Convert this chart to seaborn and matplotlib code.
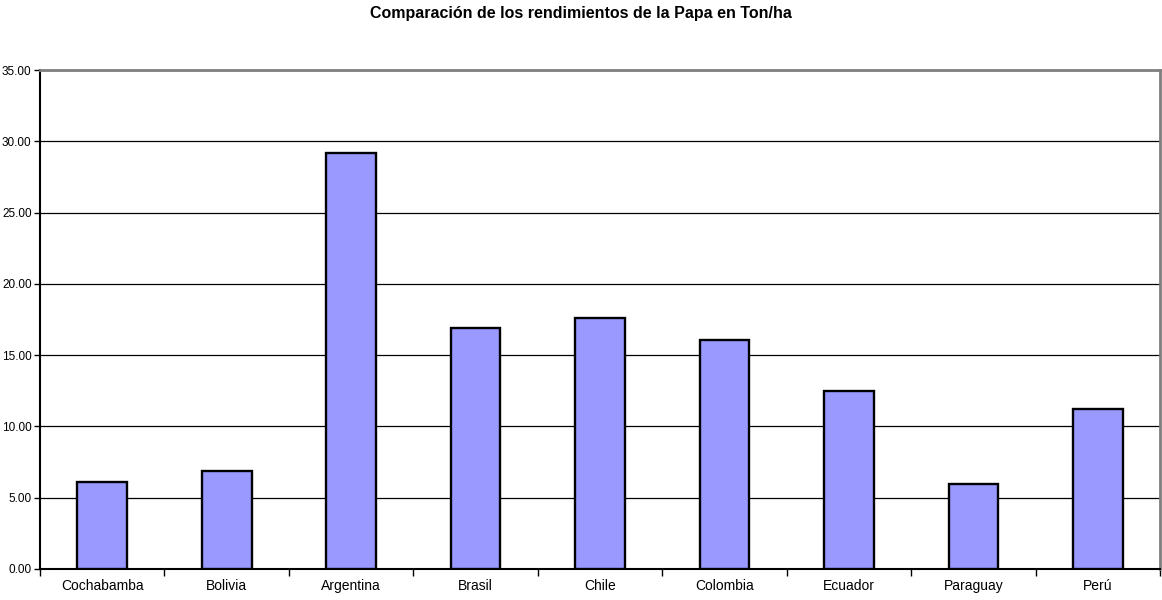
import matplotlib
matplotlib.use("Agg")
import matplotlib.pyplot as plt
import seaborn as sns
import numpy as np

countries = ["Cochabamba", "Bolivia", "Argentina", "Brasil", "Chile",
             "Colombia", "Ecuador", "Paraguay", "Perú"]
yields = [6.08, 6.89, 29.15, 16.90, 17.58, 16.06, 12.50, 5.98, 11.20]
y_ticks = [0, 5, 10, 15, 20, 25, 30, 35]

sns.set_theme(style="white")
plt.rcParams['font.family'] = ['Liberation Sans', 'DejaVu Sans']
plt.rcParams['text.color'] = 'black'
plt.rcParams['xtick.color'] = 'black'
plt.rcParams['ytick.color'] = 'black'

fig = plt.figure(figsize=(11.62, 6), dpi=100)
ax = fig.add_axes([0.0344, 0.0517, 0.9640, 0.8316])

sns.barplot(ax=ax, x=countries, y=yields, color="#9999FF", saturation=1,
            edgecolor="black", linewidth=1.7, width=0.4, zorder=3)

ax.set_ylim(0, 35)
ax.set_xlim(-0.5, len(countries) - 0.5)
ax.set_yticks(y_ticks)
ax.set_yticklabels([f"{t:.2f}" for t in y_ticks])
ax.set_xticks(np.arange(len(countries) + 1) - 0.5, minor=True)
ax.tick_params(axis='x', which='major', bottom=False, length=0, labelsize=10, pad=7)
ax.tick_params(axis='x', which='minor', bottom=True, length=5, width=1,
               color='black', direction='out')
ax.tick_params(axis='y', left=True, labelsize=8.5, length=4, width=1,
               color='black', direction='out', pad=2)

ax.yaxis.grid(True, color='black', linewidth=0.9, zorder=0)
ax.set_axisbelow(True)

for side in ['left', 'bottom']:
    ax.spines[side].set_color('black')
    ax.spines[side].set_linewidth(1.5)
for side in ['top', 'right']:
    ax.spines[side].set_color('#808080')
    ax.spines[side].set_linewidth(2)

fig.suptitle("Comparación de los rendimientos de la Papa en Ton/ha",
             fontsize=11.5, fontweight='bold', y=0.99)

fig.savefig("out.png", dpi=100)
